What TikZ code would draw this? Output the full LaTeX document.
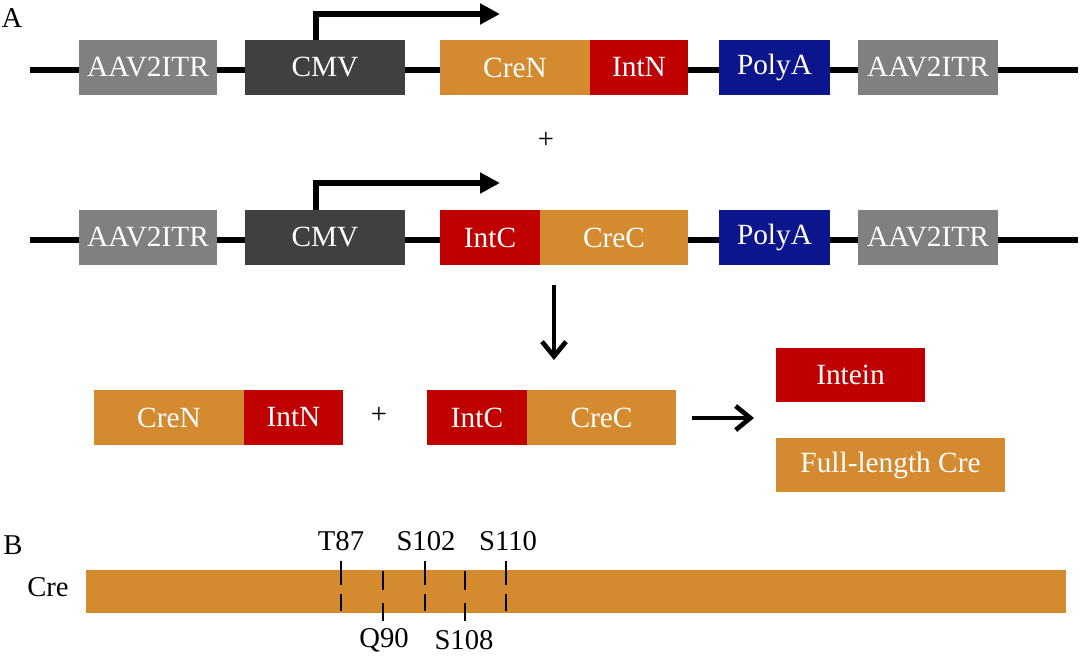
\documentclass[tikz,border=0pt]{standalone}
\usepackage{fontspec}
\setmainfont{Liberation Serif}
\usetikzlibrary{arrows.meta}
\definecolor{itrgray}{HTML}{808080}
\definecolor{cmvgray}{HTML}{404040}
\definecolor{creorange}{HTML}{D48B2F}
\definecolor{intred}{HTML}{C00000}
\definecolor{polyblue}{HTML}{0C168C}
\tikzset{
  blk/.style={draw=none, inner sep=0pt, minimum height=41.25pt, text=white, font=\fontsize{22}{25}\selectfont},
  lbl/.style={inner sep=0pt, font=\fontsize{21.5}{24}\selectfont},
  dna/.style={line width=4.5pt},
  prom/.style={line width=4.5pt, -{Triangle[length=15pt,width=15pt]}},
  bigarrow/.style={line width=3.5pt, -{Straight Barb[length=11pt,width=18pt,line width=3.5pt]}},
  tick/.style={line width=1.2pt}
}
\begin{document}
\begin{tikzpicture}[x=0.75pt,y=-0.75pt]
\useasboundingbox (0,0) rectangle (1080,660);
% labels A, B
\node[lbl] (A) at (12,18) {A};
\node[lbl] (B) at (13,545) {B};
% Row 1
\coordinate (l1a) at (30,70);
\coordinate (l1b) at (1078,70);
\draw[dna] (l1a) -- (l1b);
\node[blk, fill=itrgray, minimum width=103.5pt] (itr1) at (148,67.5) {AAV2ITR};
\node[blk, fill=cmvgray, minimum width=120pt] (cmv1) at (325,67.5) {CMV};
\node[blk, fill=creorange, minimum width=112.5pt] (cren1) at (515,67.5) {CreN};
\node[blk, fill=intred, minimum width=73.5pt] (intn1) at (639,67.5) {IntN};
\node[blk, fill=polyblue, minimum width=83.25pt] (polya1) at (774.5,67.5) {PolyA};
\node[blk, fill=itrgray, minimum width=105pt] (itr1b) at (928,67.5) {AAV2ITR};
\coordinate (p1a) at (316,40);
\coordinate (p1b) at (316,14);
\coordinate (p1c) at (500,14);
\draw[prom] (p1a) -- (p1b) -- (p1c);
% plus
\node[lbl] (plus1) at (546,140) {+};
% Row 2
\coordinate (l2a) at (30,240);
\coordinate (l2b) at (1078,240);
\draw[dna] (l2a) -- (l2b);
\node[blk, fill=itrgray, minimum width=103.5pt] (itr2) at (148,237.5) {AAV2ITR};
\node[blk, fill=cmvgray, minimum width=120pt] (cmv2) at (325,237.5) {CMV};
\node[blk, fill=intred, minimum width=75pt] (intc2) at (490,237.5) {IntC};
\node[blk, fill=creorange, minimum width=111pt] (crec2) at (614,237.5) {CreC};
\node[blk, fill=polyblue, minimum width=83.25pt] (polya2) at (774.5,237.5) {PolyA};
\node[blk, fill=itrgray, minimum width=105pt] (itr2b) at (928,237.5) {AAV2ITR};
\coordinate (p2a) at (316,210);
\coordinate (p2b) at (316,183);
\coordinate (p2c) at (500,183);
\draw[prom] (p2a) -- (p2b) -- (p2c);
% down arrow
\coordinate (d1) at (554,285);
\coordinate (d2) at (554,360);
\draw[bigarrow] (d1) -- (d2);
% Row 3
\node[blk, fill=creorange, minimum width=112.5pt] (cren3) at (169,417.5) {CreN};
\node[blk, fill=intred, minimum width=74.25pt] (intn3) at (293.5,417.5) {IntN};
\node[lbl] (plus2) at (379,415) {+};
\node[blk, fill=intred, minimum width=75pt] (intc3) at (477,417.5) {IntC};
\node[blk, fill=creorange, minimum width=111.75pt] (crec3) at (601.5,417.5) {CreC};
\coordinate (r1) at (692,418);
\coordinate (r2) at (754,418);
\draw[bigarrow] (r1) -- (r2);
\node[blk, fill=intred, minimum width=111.75pt, minimum height=40.5pt] (intein) at (850.5,375) {Intein};
\node[blk, fill=creorange, minimum width=171.75pt, minimum height=40.5pt] (full) at (890.5,465) {Full-length Cre};
% B
\node[lbl] (crelbl) at (48,587) {Cre};
\node[blk, fill=creorange, minimum width=735pt, minimum height=32.25pt] (bar) at (576,591.5) {};
% ticks (upper)
\foreach \x/\n in {341/T87, 425/S102, 506/S110}{
  \coordinate (t\n a) at (\x,561);
  \coordinate (t\n b) at (\x,585);
  \coordinate (t\n c) at (\x,594);
  \coordinate (t\n d) at (\x,611);
  \draw[tick] (t\n a) -- (t\n b);
  \draw[tick] (t\n c) -- (t\n d);
}
\foreach \x/\n in {383/Q90, 465/S108}{
  \coordinate (t\n a) at (\x,571);
  \coordinate (t\n b) at (\x,590);
  \coordinate (t\n c) at (\x,603);
  \coordinate (t\n d) at (\x,621);
  \draw[tick] (t\n a) -- (t\n b);
  \draw[tick] (t\n c) -- (t\n d);
}
\node[lbl] (T87) at (341,541) {T87};
\node[lbl] (S102) at (426,541) {S102};
\node[lbl] (S110) at (508,541) {S110};
\node[lbl] (Q90) at (384,640) {Q90};
\node[lbl] (S108) at (464,640) {S108};
\end{tikzpicture}
\end{document}
